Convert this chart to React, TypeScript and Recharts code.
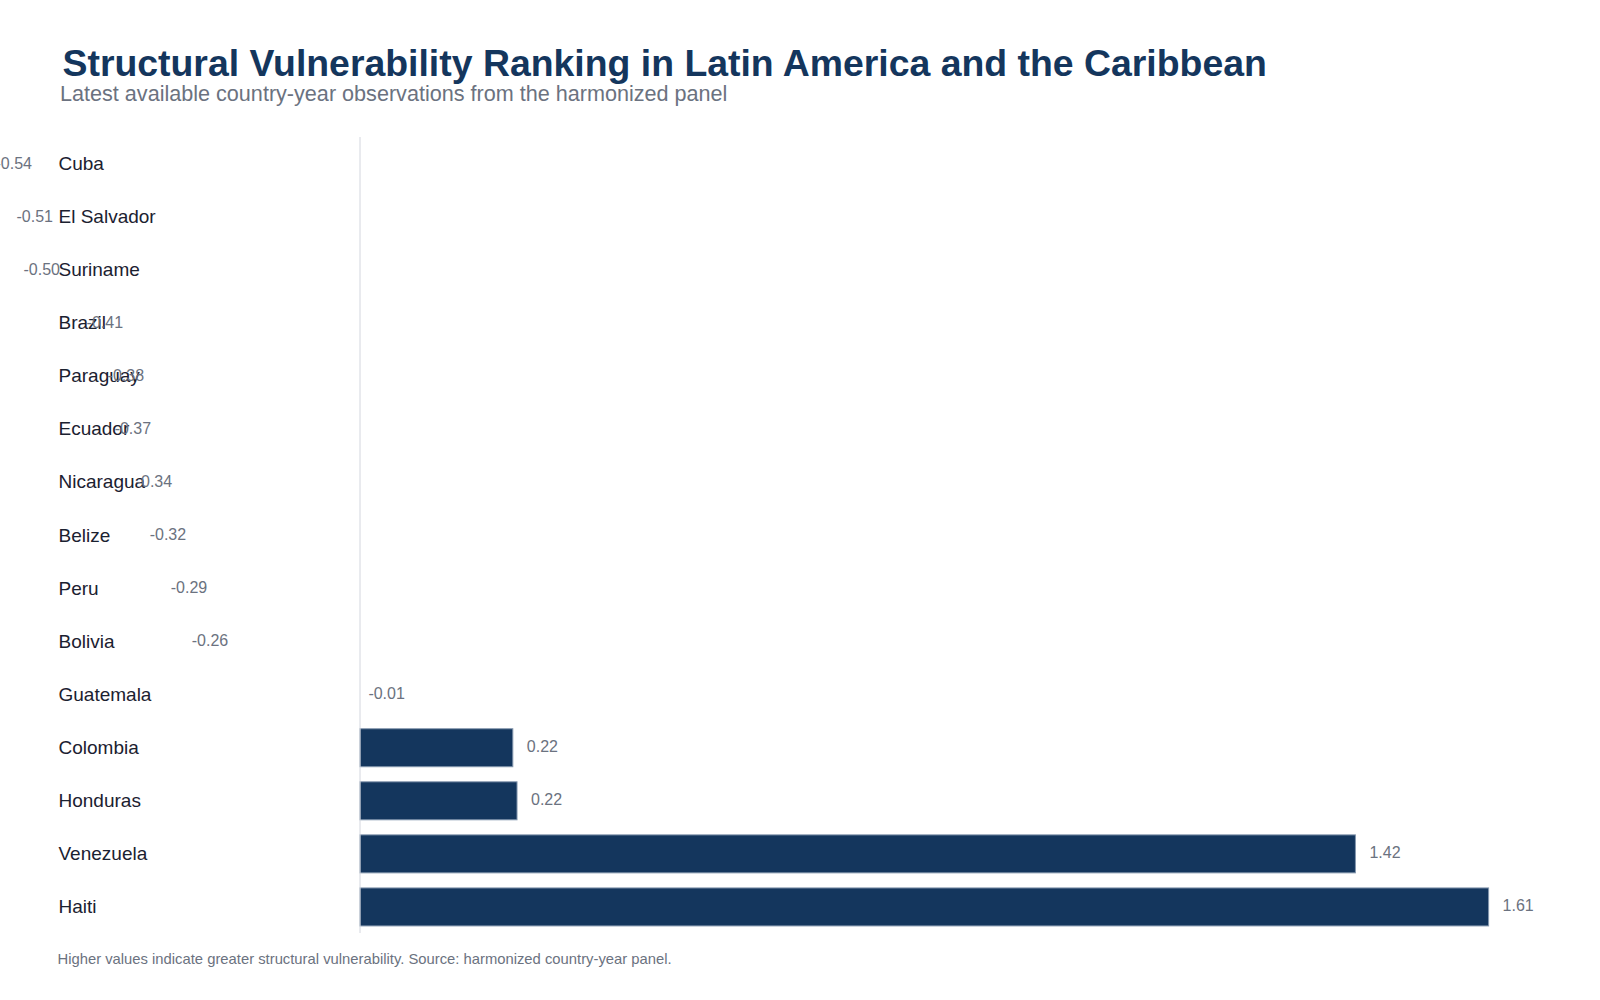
import React from 'react';
import { BarChart, Bar, XAxis, YAxis, ReferenceLine, LabelList } from 'recharts';

// Structural vulnerability index, latest country-year observation, sorted ascending
const countries = [
  'Cuba',
  'El Salvador',
  'Suriname',
  'Brazil',
  'Paraguay',
  'Ecuador',
  'Nicaragua',
  'Belize',
  'Peru',
  'Bolivia',
  'Guatemala',
  'Colombia',
  'Honduras',
  'Venezuela',
  'Haiti',
];
const scores = [
  -0.54, -0.51, -0.5, -0.41, -0.38, -0.37, -0.34, -0.32, -0.29, -0.26, -0.008, 0.218, 0.224, 1.42, 1.61,
];
const valueDomain: [number, number] = [-0.6, 1.7];

const titleText = 'Structural Vulnerability Ranking in Latin America and the Caribbean';
const subtitleText = 'Latest available country-year observations from the harmonized panel';
const footerText =
  'Higher values indicate greater structural vulnerability. Source: harmonized country-year panel.';

const data = countries.map((country, i) => ({ country, score: scores[i] }));

const FONT = '"Liberation Sans", Arial, Helvetica, sans-serif';
const NAVY = '#14365d';
const GREY = '#6b7280';

// Only scores above zero get a visible bar; the panel starts at the zero line.
const ScoreBar = (props: any) => {
  const { x, y, width, height } = props;
  const v = props.payload ? props.payload.score : props.value;
  if (v == null || v <= 0) return <g />;
  const left = Math.min(x, x + width);
  return (
    <rect
      x={left}
      y={y}
      width={Math.abs(width)}
      height={height}
      fill={NAVY}
      stroke="#8497ae"
      strokeWidth={1}
    />
  );
};

// Value printed just past the end of each bar (end = the score's position on the scale)
const ScoreLabel = (props: any) => {
  const vb = props.viewBox && props.viewBox.x != null ? props.viewBox : props;
  const { x, y, width, height } = vb;
  const value = Number(props.value);
  const end = value >= 0 ? Math.max(x, x + width) : Math.min(x, x + width);
  return (
    <text
      x={end + 14}
      y={y + height / 2}
      dy={-1}
      dominantBaseline="central"
      textAnchor="start"
      fontFamily={FONT}
      fontSize={16}
      fill={GREY}
    >
      {value.toFixed(2)}
    </text>
  );
};

const CountryTick = (props: any) => {
  const { y, payload } = props;
  return (
    <text
      x={158.5}
      y={y}
      dominantBaseline="central"
      textAnchor="start"
      fontFamily={FONT}
      fontSize={19}
      fill="#1b2130"
    >
      {payload.value}
    </text>
  );
};

export default function App() {
  return (
    <div
      style={{
        position: 'absolute',
        left: 0,
        top: 0,
        width: 1600,
        height: 1000,
        background: '#ffffff',
        overflow: 'hidden',
      }}
    >
      <div style={{ position: 'absolute', left: -100, top: 0 }}>
        <BarChart
          width={1700}
          height={1000}
          data={data}
          layout="vertical"
          margin={{ top: 137, right: 48.3, bottom: 67, left: 0 }}
        >
          <XAxis type="number" dataKey="score" domain={valueDomain} hide />
          <YAxis
            type="category"
            dataKey="country"
            width={39.4}
            axisLine={false}
            tickLine={false}
            interval={0}
            tick={<CountryTick />}
          />
          <ReferenceLine x={0} stroke="#d3d6de" strokeWidth={1} />
          <Bar dataKey="score" barSize={38} shape={<ScoreBar />} isAnimationActive={false}>
            <LabelList dataKey="score" content={<ScoreLabel />} />
          </Bar>
        </BarChart>
      </div>
      <svg
        width={1600}
        height={1000}
        style={{ position: 'absolute', left: 0, top: 0, pointerEvents: 'none' }}
      >
        <text x={62.5} y={76} fontFamily={FONT} fontSize={37.4} fontWeight="bold" fill={NAVY}>
          {titleText}
        </text>
        <text x={60} y={101} fontFamily={FONT} fontSize={21.6} fill={GREY}>
          {subtitleText}
        </text>
        <text x={57.5} y={964} fontFamily={FONT} fontSize={14.8} fill={GREY}>
          {footerText}
        </text>
      </svg>
    </div>
  );
}
